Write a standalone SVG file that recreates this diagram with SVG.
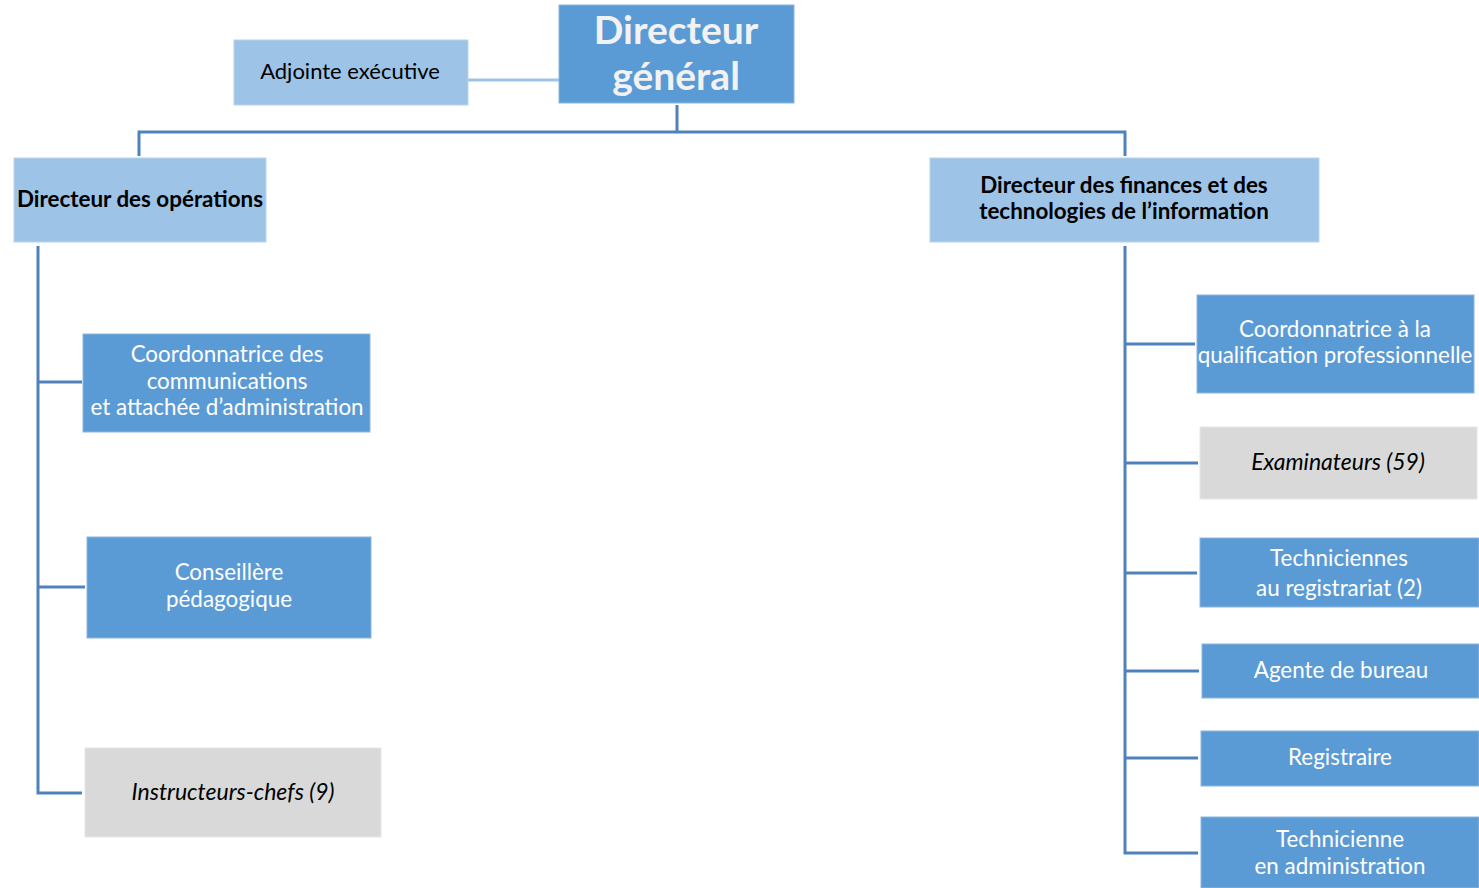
<svg xmlns="http://www.w3.org/2000/svg" width="1479" height="888" viewBox="0 0 1479 888">
<style>
.dark{fill:#5B9BD5;stroke:#8DB6E0;stroke-width:1}
.light{fill:#9DC3E6;stroke:#B8D4EE;stroke-width:1}
.gray{fill:#D9D9D9;stroke:#E6E6E6;stroke-width:1}
text{font-family:Lato,"Open Sans","Liberation Sans",sans-serif;text-anchor:middle}
.w{fill:#FFFFFF;font-size:22.4px}
.b{fill:#000000;font-size:22.4px;font-weight:bold}
.n{fill:#000000;font-size:22px}
.i{fill:#000000;font-size:23px;font-style:italic}
.title{fill:#F2F2F2;font-size:39px;font-weight:bold}
.conn{fill:none;stroke:#4F81BD;stroke-width:3}
.connl{fill:none;stroke:#9DC3E6;stroke-width:3}
</style>
<rect width="1479" height="888" fill="#FFFFFF"/>
<g id="connectors">
<line class="connl" x1="468" y1="80" x2="561" y2="80"/>
<polyline class="conn" points="677,105 677,132"/>
<polyline class="conn" points="139,156 139,132 1125,132 1125,156"/>
<polyline class="conn" points="38,246 38,793 82,793"/>
<line class="conn" x1="38" y1="382" x2="82" y2="382"/>
<line class="conn" x1="38" y1="587" x2="85" y2="587"/>
<polyline class="conn" points="1125,246 1125,853 1198,853"/>
<line class="conn" x1="1125" y1="344" x2="1195" y2="344"/>
<line class="conn" x1="1125" y1="463" x2="1198" y2="463"/>
<line class="conn" x1="1125" y1="573" x2="1197" y2="573"/>
<line class="conn" x1="1125" y1="671" x2="1199" y2="671"/>
<line class="conn" x1="1125" y1="758" x2="1198" y2="758"/>
</g>
<g id="dg">
<rect class="dark" x="559" y="5" width="235" height="98"/>
<text class="title" x="676" y="44">Directeur</text>
<text class="title" x="676" y="90">général</text>
</g>
<g id="adjointe">
<rect class="light" x="234" y="40" width="234" height="65"/>
<text class="n" x="350" y="79">Adjointe exécutive</text>
</g>
<g id="dir-operations">
<rect class="light" x="14" y="158" width="252" height="84"/>
<text class="b" x="140" y="207">Directeur des opérations</text>
</g>
<g id="dir-finances">
<rect class="light" x="930" y="158" width="389" height="84"/>
<text class="b" x="1124" y="193">Directeur des finances et des</text>
<text class="b" x="1124" y="219">technologies de l’information</text>
</g>
<g id="coord-comm">
<rect class="dark" x="83" y="334" width="287" height="98"/>
<text class="w" x="227" y="362">Coordonnatrice des</text>
<text class="w" x="227" y="389">communications</text>
<text class="w" x="227" y="415">et attachée d’administration</text>
</g>
<g id="conseillere">
<rect class="dark" x="87" y="537" width="284" height="101"/>
<text class="w" x="229" y="580">Conseillère</text>
<text class="w" x="229" y="607">pédagogique</text>
</g>
<g id="instructeurs">
<rect class="gray" x="85" y="748" width="296" height="89"/>
<text class="i" x="233" y="800">Instructeurs-chefs (9)</text>
</g>
<g id="coord-qual">
<rect class="dark" x="1197" y="295" width="277" height="98"/>
<text class="w" x="1335" y="337">Coordonnatrice à la</text>
<text class="w" x="1335" y="363">qualification professionnelle</text>
</g>
<g id="examinateurs">
<rect class="gray" x="1200" y="427" width="277" height="72"/>
<text class="i" x="1338" y="470">Examinateurs (59)</text>
</g>
<g id="techniciennes">
<rect class="dark" x="1200" y="538" width="279" height="69"/>
<text class="w" x="1339" y="566">Techniciennes</text>
<text class="w" x="1339" y="596">au registrariat (2)</text>
</g>
<g id="agente">
<rect class="dark" x="1202" y="644" width="277" height="54"/>
<text class="w" x="1341" y="678">Agente de bureau</text>
</g>
<g id="registraire">
<rect class="dark" x="1201" y="731" width="278" height="55"/>
<text class="w" x="1340" y="765">Registraire</text>
</g>
<g id="technicienne-admin">
<rect class="dark" x="1201" y="817" width="278" height="71"/>
<text class="w" x="1340" y="847">Technicienne</text>
<text class="w" x="1340" y="874">en administration</text>
</g>
</svg>
